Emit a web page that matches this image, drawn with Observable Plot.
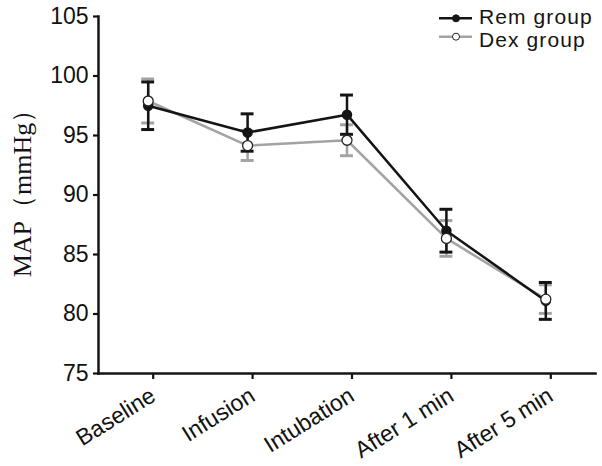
<!DOCTYPE html>
<html>
<head>
<meta charset="utf-8">
<script src="https://cdn.jsdelivr.net/npm/d3@7"></script>
<script src="https://cdn.jsdelivr.net/npm/@observablehq/plot@0.6"></script>
<style>
  html, body { margin: 0; padding: 0; background: #fff; }
  #wrap { position: relative; width: 602px; height: 466px; }
  #overlay { position: absolute; left: 0; top: 0; pointer-events: none; }
</style>
</head>
<body>
<div id="wrap"></div>
<script>
const categories = ["Baseline", "Infusion", "Intubation", "After 1 min", "After 5 min"];
const groups = ["Rem group", "Dex group"];
const yTitle = "MAP（mmHg）";
const remMean = [97.5, 95.25, 96.75, 87.0, 81.1];
const remSD = [2.0, 1.57, 1.65, 1.8, 1.55];
const dexMean = [97.9, 94.15, 94.6, 86.35, 81.25];
const dexSD = [1.85, 1.25, 1.3, 1.5, 1.2];
const yTicks = [75, 80, 85, 90, 95, 100, 105];

const BLACK = "#141414", GRAY = "#a3a3a3";
const rem = categories.map((c, i) => ({i, c, m: remMean[i], s: remSD[i]}));
const dex = categories.map((c, i) => ({i, c, m: dexMean[i], s: dexSD[i]}));
const capW = 0.065;

function errMarks(data, color) {
  return [
    Plot.ruleX(data, {x: "i", y1: d => d.m - d.s, y2: d => d.m + d.s, stroke: color, strokeWidth: 2.5}),
    Plot.ruleY(data, {y: d => d.m + d.s, x1: d => d.i - capW, x2: d => d.i + capW, stroke: color, strokeWidth: 3}),
    Plot.ruleY(data, {y: d => d.m - d.s, x1: d => d.i - capW, x2: d => d.i + capW, stroke: color, strokeWidth: 3})
  ];
}

const chart = Plot.plot({
  width: 602,
  height: 466,
  marginLeft: 98,
  marginRight: 7,
  marginTop: 16,
  marginBottom: 93,
  style: {fontFamily: "'Liberation Sans', Arial, sans-serif", color: "#111", background: "#fff"},
  x: {domain: [-0.5, 4.5]},
  y: {domain: [75, 105]},
  marks: [
    Plot.axisY({ticks: yTicks, tickSize: 5, tickPadding: 5, fontSize: 23, label: null, strokeWidth: 2.2}),
    Plot.axisX({ticks: categories.map((c, i) => i), tickFormat: i => categories[i], tickRotate: -32, tickSize: 6, tickPadding: 14, dx: 5, fontSize: 23, label: null, strokeWidth: 2.2}),
    Plot.frame({anchor: "left", stroke: BLACK, strokeWidth: 2.5}),
    Plot.frame({anchor: "bottom", stroke: BLACK, strokeWidth: 2.5}),
    ...errMarks(dex, GRAY),
    ...errMarks(rem, BLACK),
    Plot.line(dex, {x: "i", y: "m", stroke: GRAY, strokeWidth: 2.5}),
    Plot.line(rem, {x: "i", y: "m", stroke: BLACK, strokeWidth: 2.5}),
    Plot.dot(rem, {x: "i", y: "m", r: 4.5, fill: BLACK, stroke: BLACK}),
    Plot.dot(dex, {x: "i", y: "m", r: 5, fill: "#fff", stroke: "#222", strokeWidth: 1.3})
  ]
});
const wrap = document.getElementById("wrap");
wrap.appendChild(chart);

// Overlay: y-axis title and legend
const ns = "http://www.w3.org/2000/svg";
const ov = document.createElementNS(ns, "svg");
ov.setAttribute("id", "overlay");
ov.setAttribute("width", 602);
ov.setAttribute("height", 466);
wrap.appendChild(ov);

const t = document.createElementNS(ns, "text");
t.setAttribute("transform", "translate(31,187) rotate(-90)");
t.setAttribute("text-anchor", "middle");
t.setAttribute("font-family", "'Liberation Serif', 'Times New Roman', serif");
t.setAttribute("font-size", 26);
t.setAttribute("fill", BLACK);
t.textContent = yTitle;
ov.appendChild(t);

const legendStyles = [
  {line: BLACK, fill: BLACK, stroke: BLACK, ly: 18.3, ty: 23.5},
  {line: GRAY, fill: "#fff", stroke: "#222", ly: 36.7, ty: 47}
];
groups.forEach((g, k) => {
  const s = legendStyles[k];
  const l = document.createElementNS(ns, "line");
  l.setAttribute("x1", 439); l.setAttribute("x2", 472);
  l.setAttribute("y1", s.ly); l.setAttribute("y2", s.ly);
  l.setAttribute("stroke", s.line); l.setAttribute("stroke-width", 2.5);
  ov.appendChild(l);
  const c = document.createElementNS(ns, "circle");
  c.setAttribute("cx", 456); c.setAttribute("cy", s.ly); c.setAttribute("r", 3.5);
  c.setAttribute("fill", s.fill); c.setAttribute("stroke", s.stroke); c.setAttribute("stroke-width", 1);
  ov.appendChild(c);
  const tx = document.createElementNS(ns, "text");
  tx.setAttribute("x", 479); tx.setAttribute("y", s.ty);
  tx.setAttribute("font-family", "'Liberation Sans', Arial, sans-serif");
  tx.setAttribute("font-size", 21);
  tx.setAttribute("letter-spacing", 1.1);
  tx.setAttribute("fill", BLACK);
  tx.textContent = g;
  ov.appendChild(tx);
});
</script>
</body>
</html>
